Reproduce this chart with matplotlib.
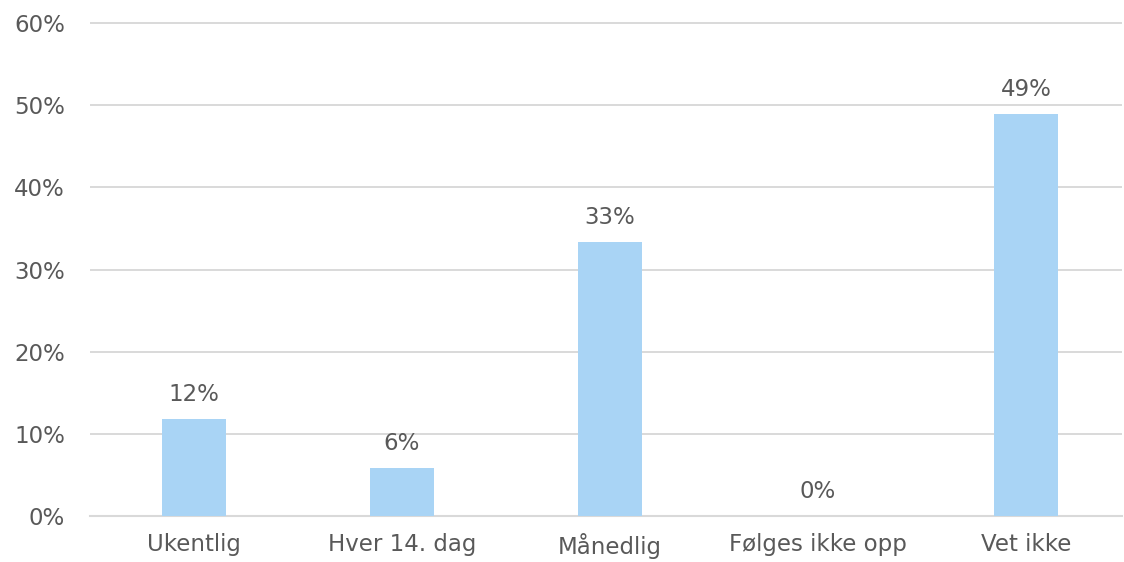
import matplotlib
matplotlib.use("Agg")
import matplotlib.pyplot as plt

categories = ["Ukentlig", "Hver 14. dag", "Månedlig", "Følges ikke opp", "Vet ikke"]
values = [11.8, 5.8, 33.4, 0.0, 48.9]
yticks = [0, 10, 20, 30, 40, 50, 60]

plt.rcParams['font.family'] = ['DejaVu Sans']
txt = '#595959'
fig = plt.figure(figsize=(11.24, 5.62), dpi=100)
ax = fig.add_axes([0.080, 0.0819, 0.918, 0.879])

x = list(range(len(categories)))
ax.bar(x, values, width=0.31, color='#A9D4F5', zorder=3)
for xi, v in zip(x, values):
    ax.text(xi, v + 1.6, f"{round(v)}%", ha='center', va='bottom',
            fontsize=16.5, color=txt)

ax.set_xlim(-0.5, 4.46)
ax.set_ylim(0, 60.15)
ax.set_yticks(yticks)
ax.set_yticklabels([f"{t}%" for t in yticks])
ax.set_xticks(x)
ax.set_xticklabels(categories)
ax.tick_params(axis='both', length=0, labelsize=16.5, colors=txt)
ax.tick_params(axis='y', pad=18)
ax.tick_params(axis='x', pad=12)
ax.grid(axis='y', color='#D9D9D9', linewidth=1.4, zorder=0)
for s in ['top', 'right', 'left']:
    ax.spines[s].set_visible(False)
ax.spines['bottom'].set_color('#D9D9D9')
ax.spines['bottom'].set_linewidth(1.5)

fig.savefig("out.png", dpi=100)
